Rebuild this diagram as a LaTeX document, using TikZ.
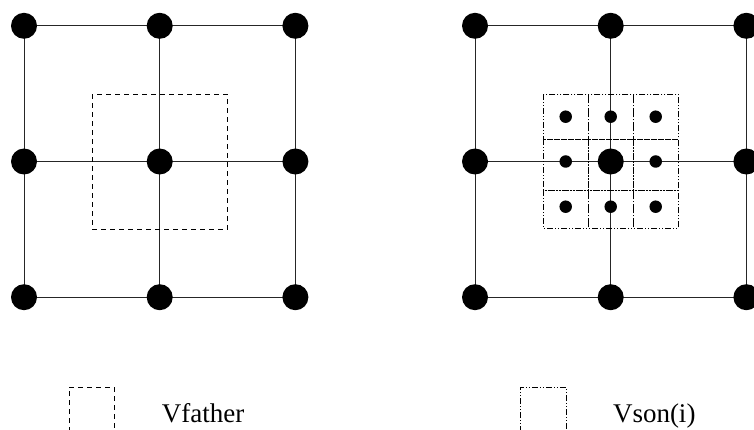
\documentclass[tikz,border=0pt]{standalone}
\usepackage{fontspec}
\setmainfont{Liberation Serif}
\begin{document}
\begin{tikzpicture}[x=1pt,y=-1pt,
  bigdot/.style={circle,fill=black,inner sep=0pt,minimum size=26pt},
  smalldot/.style={circle,fill=black,inner sep=0pt,minimum size=12.5pt},
  gridline/.style={line width=0.8pt,black!85},
  fatherbox/.style={line width=0.6pt,dash pattern=on 5pt off 4pt},
  sonbox/.style={line width=0.6pt,dash pattern=on 6pt off 2pt on 1pt off 2pt on 1pt off 2pt},
  lbl/.style={anchor=base west,inner sep=0pt,font=\fontsize{27pt}{31pt}\selectfont}]
\useasboundingbox (0,0) rectangle (754,430);
% coordinates of grid points
\foreach \i/\x in {1/24,2/159.7,3/295.4}{
  \foreach \j/\y in {1/25.8,2/161.5,3/297.2}{
    \coordinate (L\i\j) at (\x,\y);
  }
}
\foreach \i/\x in {1/475,2/610.7,3/746.4}{
  \foreach \j/\y in {1/25.8,2/161.5,3/297.2}{
    \coordinate (R\i\j) at (\x,\y);
  }
}
% grid lines
\foreach \k in {1,2,3}{
  \draw[gridline] (L1\k) -- (L3\k);
  \draw[gridline] (L\k1) -- (L\k3);
  \draw[gridline] (R1\k) -- (R3\k);
  \draw[gridline] (R\k1) -- (R\k3);
}
% father box
\draw[fatherbox] (92,94.3) rectangle (227.3,229.3);
% son boxes
\draw[sonbox] (543.3,94.3) rectangle (588.3,139.3);
\draw[sonbox] (588.3,94.3) rectangle (633.3,139.3);
\draw[sonbox] (633.3,94.3) rectangle (678.3,139.3);
\draw[sonbox] (543.3,139.3) rectangle (588.3,190.3);
\draw[sonbox] (588.3,139.3) rectangle (633.3,190.3);
\draw[sonbox] (633.3,139.3) rectangle (678.3,190.3);
\draw[sonbox] (543.3,190.3) rectangle (588.3,228.3);
\draw[sonbox] (588.3,190.3) rectangle (633.3,228.3);
\draw[sonbox] (633.3,190.3) rectangle (678.3,228.3);
% big dots
\foreach \i in {1,2,3}{
  \foreach \j in {1,2,3}{
    \node[bigdot] (nL\i\j) at (L\i\j) {};
    \node[bigdot] (nR\i\j) at (R\i\j) {};
  }
}
% small dots
\foreach \i/\x in {1/565.7,2/610.7,3/655.7}{
  \foreach \j/\y in {1/116.7,2/161.5,3/206.7}{
    \ifnum\i=2 \ifnum\j=2 \else \node[smalldot] (s\i\j) at (\x,\y) {}; \fi
    \else \node[smalldot] (s\i\j) at (\x,\y) {}; \fi
  }
}
% legend
\draw[fatherbox] (68.8,432) -- (68.8,387.3) -- (114.2,387.3) -- (114.2,432);
\node[lbl] (vf) at (161.7,422) {Vfather};
\draw[sonbox] (520.5,432) -- (520.5,387.3) -- (566,387.3) -- (566,432);
\node[lbl] (vs) at (612.8,422) {Vson(i)};
\end{tikzpicture}
\end{document}
